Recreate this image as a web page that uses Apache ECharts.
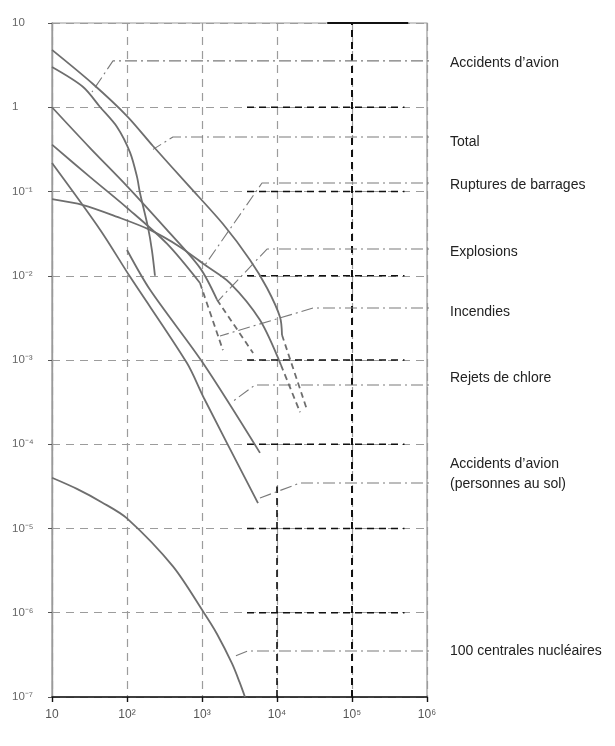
<!DOCTYPE html>
<html>
<head>
<meta charset="utf-8">
<script src="https://cdn.jsdelivr.net/npm/echarts@6/dist/echarts.min.js"></script>
<style>
html,body{margin:0;padding:0;background:#fff;}
#chart{width:615px;height:746px;}
</style>
</head>
<body>
<div id="chart"></div>
<script>
// ---- tick labels ----
const xTickLabels = ['10', '10²', '10³', '10⁴', '10⁵', '10⁶'];
const yTickLabels = ['10⁻⁷', '10⁻⁶', '10⁻⁵', '10⁻⁴', '10⁻³', '10⁻²', '10⁻¹', '1', '10'];

// ---- curves (x = nombre de victimes, y = fréquence par an) ----
const totalX = [10, 35.2, 100, 222, 631, 1905, 4365, 7360, 10960, 11660];
const totalY = [4.8, 1.89, 0.787, 0.347, 0.123, 0.0411, 0.0154, 0.00716, 0.00324, 0.00198];
const totalDashX = [11660, 25100];
const totalDashY = [0.00198, 0.000257];

const avionX = [10, 26, 44, 74, 110, 136, 149, 190, 215, 236];
const avionY = [3.0, 1.74, 1.0, 0.58, 0.29, 0.149, 0.096, 0.038, 0.020, 0.010];

const explosionsX = [10, 32, 100, 341, 940, 1585];
const explosionsY = [1.0, 0.33, 0.116, 0.035, 0.0124, 0.0052];
const explosionsDashX = [1585, 4800];
const explosionsDashY = [0.0052, 0.00121];

const incendiesX = [10, 32, 100, 341, 940];
const incendiesY = [0.36, 0.149, 0.064, 0.024, 0.0082];
const incendiesDashX = [940, 1900];
const incendiesDashY = [0.0082, 0.00131];

const barragesX = [10, 26, 74, 203, 509, 1100, 2360, 5900, 11300];
const barragesY = [0.081, 0.069, 0.050, 0.035, 0.022, 0.0134, 0.0082, 0.0030, 0.00087];
const barragesDashX = [11300, 20300];
const barragesDashY = [0.00087, 0.00024];

const solX = [10, 44, 110, 630, 1060, 5580];
const solY = [0.218, 0.035, 0.0097, 0.00092, 0.000354, 0.00002];

const chloreX = [100, 203, 1030, 5930];
const chloreY = [0.0202, 0.0068, 0.00092, 0.000079];

const nucleaireX = [10, 21.5, 46.5, 100, 410, 1060, 1585, 2510, 3160, 3740];
const nucleaireY = [4.0e-5, 2.95e-5, 2.04e-5, 1.32e-5, 3.55e-6, 1.0e-6, 5.6e-7, 2.5e-7, 1.51e-7, 1.0e-7];

// ---- labels on the right and their leader lines (data coords, log10) ----
const labelNames = ['Accidents d’avion', 'Total', 'Ruptures de barrages', 'Explosions', 'Incendies',
  'Rejets de chlore', 'Accidents d’avion\n(personnes au sol)', '100 centrales nucléaires'];
const labelTops = [53, 132, 175, 242, 302, 368, 454, 641];
const leaderY = [0.55, -0.353, -0.899, -1.683, -2.383, -3.297, -4.46, -6.454];   // log10 y of horizontal
const leaderBendX = [1.813, 2.613, 3.8, 3.867, 4.48, 3.707, 4.307, 3.613];        // log10 x of bend
const leaderEndX = [1.533, 2.347, 3.04, 3.213, 3.24, 3.4, 3.773, 3.413];          // log10 x of end
const leaderEndY = [0.181, -0.50, -1.872, -2.30, -2.715, -3.499, -4.638, -6.525]; // log10 y of end

const zip = (xs, ys) => xs.map((x, i) => [x, ys[i]]);
const P = (e) => Math.pow(10, e);

const curveColor = '#6e6e6e';
function curve(xs, ys, dashed) {
  return {
    type: 'line', data: zip(xs, ys), smooth: 0.3, symbol: 'none', silent: true,
    lineStyle: { color: curveColor, width: 1.8, type: dashed ? [6, 4] : 'solid' },
    z: 5
  };
}
function seg(points, color, width, type, z) {
  return {
    type: 'line', data: points, symbol: 'none', silent: true, clip: false,
    lineStyle: { color: color, width: width, type: type }, z: z || 3
  };
}

const series = [
  curve(totalX, totalY), curve(totalDashX, totalDashY, true),
  curve(avionX, avionY),
  curve(explosionsX, explosionsY), curve(explosionsDashX, explosionsDashY, true),
  curve(incendiesX, incendiesY), curve(incendiesDashX, incendiesDashY, true),
  curve(barragesX, barragesY), curve(barragesDashX, barragesDashY, true),
  curve(solX, solY), curve(chloreX, chloreY), curve(nucleaireX, nucleaireY)
];

// darker grid portions on the right (as in the print)
for (let e = -6; e <= 0; e++) {
  series.push(seg([[P(3.6), P(e)], [P(5.7), P(e)]], '#111', 1.4, [7, 5], 2));
}
series.push(seg([[1e5, 1e-7], [1e5, 10]], '#111', 2, [7, 5], 2));
series.push(seg([[1e4, 1e-7], [1e4, P(-4.5)]], '#111', 1.6, [7, 5], 2));
series.push(seg([[P(4.67), 10], [P(5.75), 10]], '#111', 2, 'solid', 4));

// leader lines
for (let i = 0; i < labelNames.length; i++) {
  series.push(seg([
    [P(6.24), P(leaderY[i])],
    [P(leaderBendX[i]), P(leaderY[i])],
    [P(leaderEndX[i]), P(leaderEndY[i])]
  ], '#7a7a7a', 1.1, [12, 4, 2, 4], 4));
}

const chart = echarts.init(document.getElementById('chart'), null, { renderer: 'canvas' });
chart.setOption({
  backgroundColor: '#ffffff',
  animation: false,
  grid: { left: 52, top: 23, right: 188, bottom: 49, show: true, borderColor: '#9a9a9a', borderWidth: 1.2 },
  xAxis: {
    type: 'log', logBase: 10, min: 10, max: 1e6, splitNumber: 5,
    axisLine: { show: true, onZero: false, lineStyle: { color: '#111', width: 1.6 } },
    axisTick: { show: true, inside: false, length: 5, lineStyle: { color: '#111', width: 1.4 } },
    minorTick: { show: false },
    axisLabel: {
      margin: 12, color: '#555', fontSize: 12, fontFamily: 'Liberation Sans',
      formatter: (v) => xTickLabels[Math.round(Math.log10(v)) - 1]
    },
    splitLine: { show: true, lineStyle: { color: '#9c9c9c', width: 1.2, type: [8, 6] } }
  },
  yAxis: {
    type: 'log', logBase: 10, min: 1e-7, max: 10, splitNumber: 8,
    axisLine: { show: true, lineStyle: { color: '#9a9a9a', width: 1.4 } },
    axisTick: { show: true, length: 4, lineStyle: { color: '#555' } },
    axisLabel: {
      margin: 40, align: 'left', color: '#666', fontSize: 11.5, fontFamily: 'Liberation Sans',
      formatter: (v) => yTickLabels[Math.round(Math.log10(v)) + 7]
    },
    splitLine: { show: true, lineStyle: { color: '#9c9c9c', width: 1.2, type: [8, 6] } }
  },
  series: series,
  graphic: labelNames.map((t, i) => ({
    type: 'text', left: 450, top: labelTops[i], silent: true,
    style: { text: t, font: '14px "Liberation Sans", Arial, sans-serif', fill: '#222', lineHeight: 20 }
  }))
});
</script>
</body>
</html>
